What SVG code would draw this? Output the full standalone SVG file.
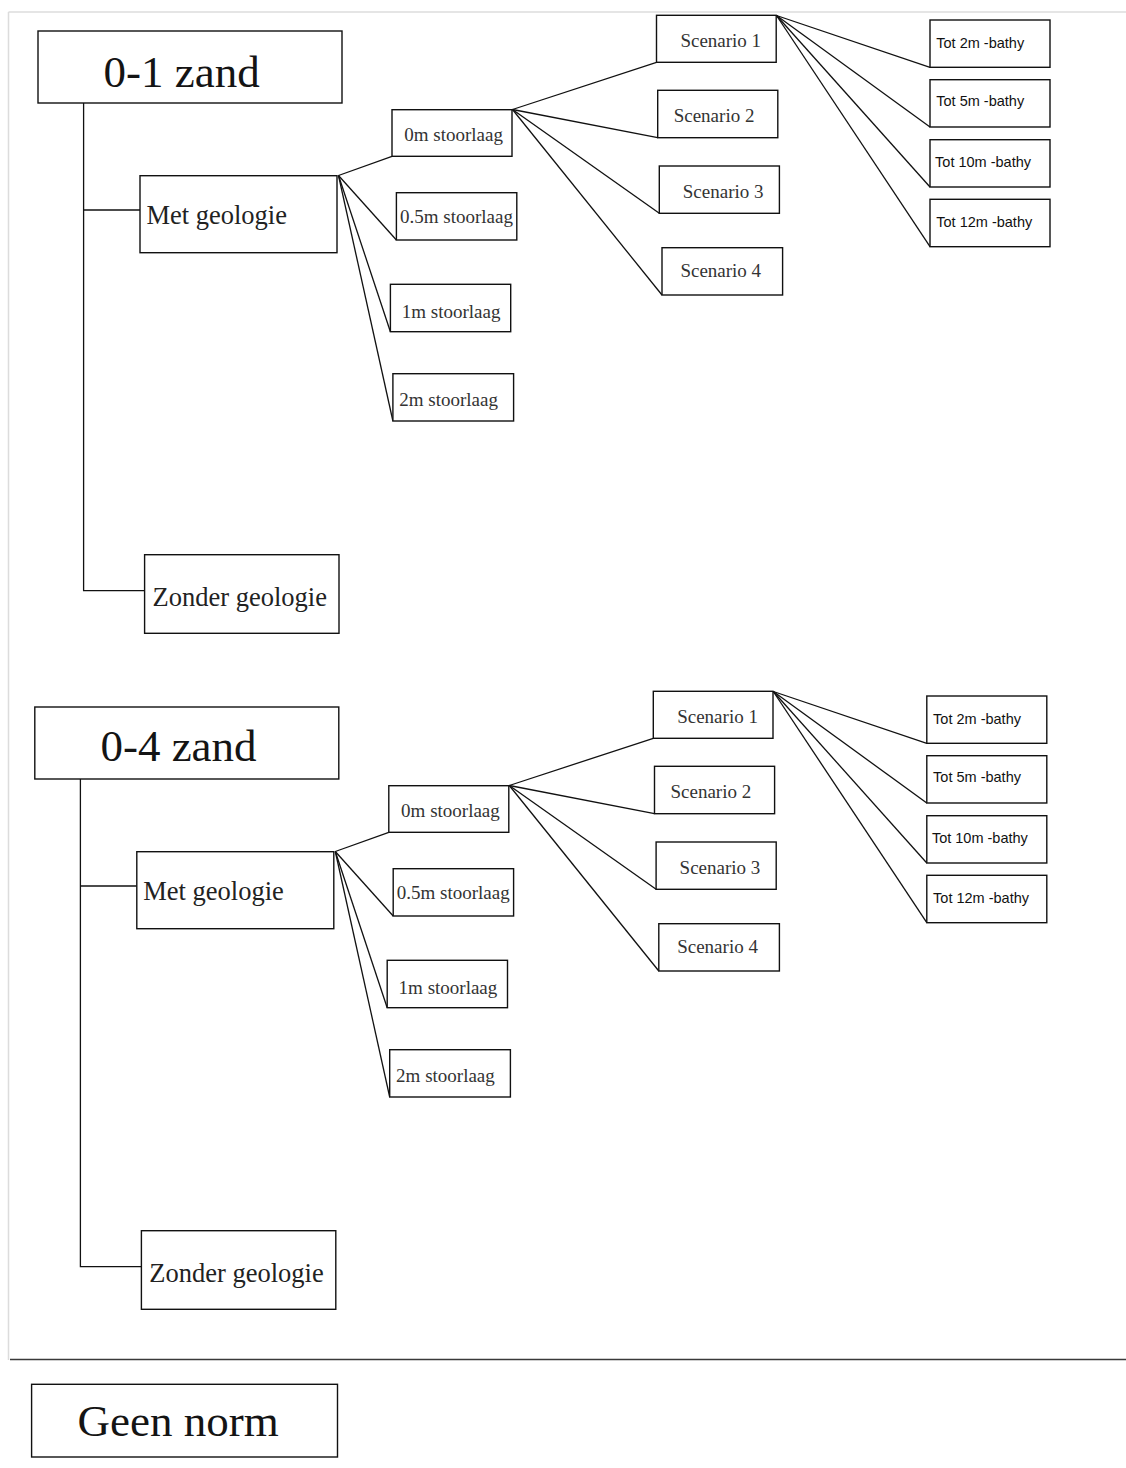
<svg xmlns="http://www.w3.org/2000/svg" width="1126" height="1468" viewBox="0 0 1126 1468">
<style>
  .box{fill:#fff;stroke:#111;stroke-width:1.4}
  .ln{fill:none;stroke:#111;stroke-width:1.3}
  .frame{fill:none;stroke:#dcdcdc;stroke-width:1.5}
  .sep{fill:none;stroke:#3a3a3a;stroke-width:1.6}
  .big{font-family:"Liberation Serif","Times New Roman",serif;font-size:45px;fill:#141414}
  .mid{font-family:"Liberation Serif","Times New Roman",serif;font-size:26.5px;fill:#222}
  .sm{font-family:"Liberation Serif","Times New Roman",serif;font-size:19px;fill:#333}
  .tot{font-family:"Liberation Sans",Arial,sans-serif;font-size:14.5px;fill:#111}
</style>
<rect x="0" y="0" width="1126" height="1468" fill="#fff"/>
<g id="frame">
  <line class="frame" x1="8.5" y1="12" x2="1126" y2="12"/>
  <line class="frame" x1="8.5" y1="12" x2="8.5" y2="1360"/>
  <line class="sep" x1="10" y1="1359.5" x2="1126" y2="1359.5"/>
</g>

<g id="tree1">
  <g id="connectors1">
    <polyline class="ln" points="83.6,103 83.6,590.7 144.6,590.7"/>
    <line class="ln" x1="83.6" y1="210" x2="140" y2="210"/>
    <line class="ln" x1="338.5" y1="175.5" x2="392" y2="156.3"/>
    <line class="ln" x1="338.5" y1="175.5" x2="396.4" y2="240"/>
    <line class="ln" x1="338.5" y1="175.5" x2="390.4" y2="331.7"/>
    <line class="ln" x1="338.5" y1="175.5" x2="392.9" y2="421"/>
    <line class="ln" x1="512.5" y1="109.5" x2="656.5" y2="62.3"/>
    <line class="ln" x1="512.5" y1="109.5" x2="657.7" y2="137.7"/>
    <line class="ln" x1="512.5" y1="109.5" x2="659.3" y2="213.3"/>
    <line class="ln" x1="512.5" y1="109.5" x2="662" y2="295"/>
    <line class="ln" x1="776.5" y1="15.5" x2="930" y2="67.3"/>
    <line class="ln" x1="776.5" y1="15.5" x2="930" y2="127"/>
    <line class="ln" x1="776.5" y1="15.5" x2="930" y2="187"/>
    <line class="ln" x1="776.5" y1="15.5" x2="930" y2="246.7"/>
  </g>
  <g id="n1-zand"><rect class="box" x="38" y="31" width="304" height="72"/><text class="big" x="103.6" y="87">0-1 zand</text></g>
  <g id="n1-met"><rect class="box" x="140" y="175.7" width="197" height="77"/><text class="mid" x="146.4" y="224">Met geologie</text></g>
  <g id="n1-zonder"><rect class="box" x="144.6" y="554.7" width="194.4" height="78.6"/><text class="mid" x="152.5" y="606">Zonder geologie</text></g>
  <g id="n1-s0"><rect class="box" x="392" y="109.7" width="120" height="46.6"/><text class="sm" x="404.3" y="141">0m stoorlaag</text></g>
  <g id="n1-s05"><rect class="box" x="396.4" y="192.7" width="120.4" height="47.3"/><text class="sm" x="400" y="223.3">0.5m stoorlaag</text></g>
  <g id="n1-s1"><rect class="box" x="390.4" y="284.3" width="120.3" height="47.4"/><text class="sm" x="401.8" y="318.3">1m stoorlaag</text></g>
  <g id="n1-s2"><rect class="box" x="392.9" y="373.7" width="120.7" height="47.3"/><text class="sm" x="399.3" y="406">2m stoorlaag</text></g>
  <g id="n1-sc1"><rect class="box" x="656.5" y="15.3" width="119.7" height="47"/><text class="sm" x="680.4" y="46.7">Scenario 1</text></g>
  <g id="n1-sc2"><rect class="box" x="657.7" y="90.3" width="120.1" height="47.4"/><text class="sm" x="673.7" y="122.3">Scenario 2</text></g>
  <g id="n1-sc3"><rect class="box" x="659.3" y="166" width="120.1" height="47.3"/><text class="sm" x="682.8" y="198">Scenario 3</text></g>
  <g id="n1-sc4"><rect class="box" x="662" y="247.7" width="120.6" height="47.3"/><text class="sm" x="680.4" y="276.7">Scenario 4</text></g>
  <g id="n1-t2"><rect class="box" x="930" y="20" width="120" height="47.3"/><text class="tot" x="936.3" y="47.7">Tot 2m -bathy</text></g>
  <g id="n1-t5"><rect class="box" x="930" y="79.7" width="120" height="47.3"/><text class="tot" x="936.3" y="106">Tot 5m -bathy</text></g>
  <g id="n1-t10"><rect class="box" x="930" y="139.7" width="120" height="47.3"/><text class="tot" x="935.1" y="167.3">Tot 10m -bathy</text></g>
  <g id="n1-t12"><rect class="box" x="930" y="199.3" width="120" height="47.4"/><text class="tot" x="936.3" y="227.3">Tot 12m -bathy</text></g>
</g>

<g id="tree2" transform="translate(-3.2,676)">
  <g id="connectors2">
    <polyline class="ln" points="83.6,103 83.6,590.7 144.6,590.7"/>
    <line class="ln" x1="83.6" y1="210" x2="140" y2="210"/>
    <line class="ln" x1="338.5" y1="175.5" x2="392" y2="156.3"/>
    <line class="ln" x1="338.5" y1="175.5" x2="396.4" y2="240"/>
    <line class="ln" x1="338.5" y1="175.5" x2="390.4" y2="331.7"/>
    <line class="ln" x1="338.5" y1="175.5" x2="392.9" y2="421"/>
    <line class="ln" x1="512.5" y1="109.5" x2="656.5" y2="62.3"/>
    <line class="ln" x1="512.5" y1="109.5" x2="657.7" y2="137.7"/>
    <line class="ln" x1="512.5" y1="109.5" x2="659.3" y2="213.3"/>
    <line class="ln" x1="512.5" y1="109.5" x2="662" y2="295"/>
    <line class="ln" x1="776.5" y1="15.5" x2="930" y2="67.3"/>
    <line class="ln" x1="776.5" y1="15.5" x2="930" y2="127"/>
    <line class="ln" x1="776.5" y1="15.5" x2="930" y2="187"/>
    <line class="ln" x1="776.5" y1="15.5" x2="930" y2="246.7"/>
  </g>
  <g id="n2-zand"><rect class="box" x="38" y="31" width="304" height="72"/><text class="big" x="103.6" y="85">0-4 zand</text></g>
  <g id="n2-met"><rect class="box" x="140" y="175.7" width="197" height="77"/><text class="mid" x="146.4" y="224">Met geologie</text></g>
  <g id="n2-zonder"><rect class="box" x="144.6" y="554.7" width="194.4" height="78.6"/><text class="mid" x="152.5" y="606">Zonder geologie</text></g>
  <g id="n2-s0"><rect class="box" x="392" y="109.7" width="120" height="46.6"/><text class="sm" x="404.3" y="141">0m stoorlaag</text></g>
  <g id="n2-s05"><rect class="box" x="396.4" y="192.7" width="120.4" height="47.3"/><text class="sm" x="400" y="223.3">0.5m stoorlaag</text></g>
  <g id="n2-s1"><rect class="box" x="390.4" y="284.3" width="120.3" height="47.4"/><text class="sm" x="401.8" y="318.3">1m stoorlaag</text></g>
  <g id="n2-s2"><rect class="box" x="392.9" y="373.7" width="120.7" height="47.3"/><text class="sm" x="399.3" y="406">2m stoorlaag</text></g>
  <g id="n2-sc1"><rect class="box" x="656.5" y="15.3" width="119.7" height="47"/><text class="sm" x="680.4" y="46.7">Scenario 1</text></g>
  <g id="n2-sc2"><rect class="box" x="657.7" y="90.3" width="120.1" height="47.4"/><text class="sm" x="673.7" y="122.3">Scenario 2</text></g>
  <g id="n2-sc3"><rect class="box" x="659.3" y="166" width="120.1" height="47.3"/><text class="sm" x="682.8" y="198">Scenario 3</text></g>
  <g id="n2-sc4"><rect class="box" x="662" y="247.7" width="120.6" height="47.3"/><text class="sm" x="680.4" y="276.7">Scenario 4</text></g>
  <g id="n2-t2"><rect class="box" x="930" y="20" width="120" height="47.3"/><text class="tot" x="936.3" y="47.7">Tot 2m -bathy</text></g>
  <g id="n2-t5"><rect class="box" x="930" y="79.7" width="120" height="47.3"/><text class="tot" x="936.3" y="106">Tot 5m -bathy</text></g>
  <g id="n2-t10"><rect class="box" x="930" y="139.7" width="120" height="47.3"/><text class="tot" x="935.1" y="167.3">Tot 10m -bathy</text></g>
  <g id="n2-t12"><rect class="box" x="930" y="199.3" width="120" height="47.4"/><text class="tot" x="936.3" y="227.3">Tot 12m -bathy</text></g>
</g>

<g id="n-geen"><rect class="box" x="31.6" y="1384.3" width="305.9" height="72.7"/><text class="big" x="77.6" y="1436">Geen norm</text></g>
</svg>
